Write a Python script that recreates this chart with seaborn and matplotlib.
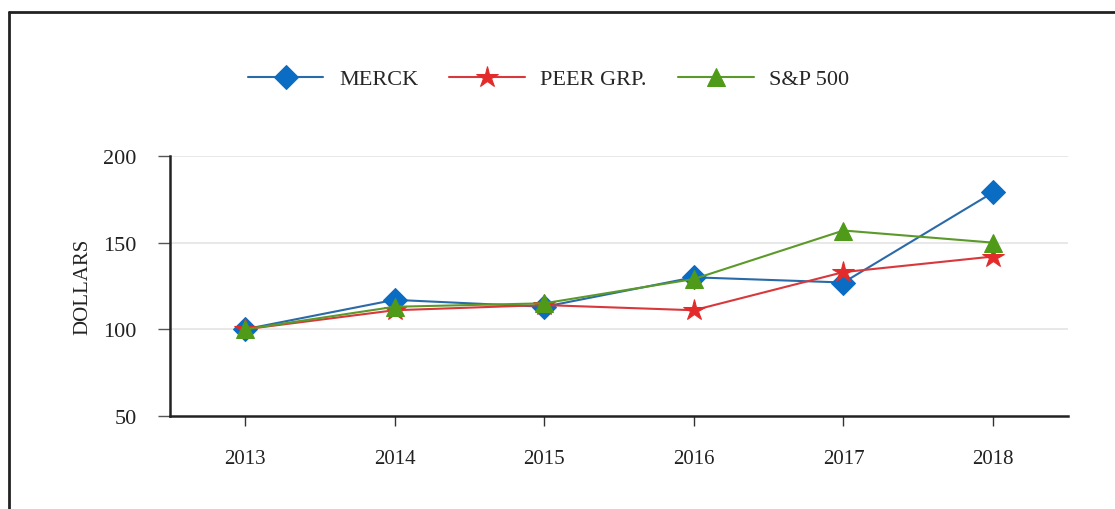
import pandas as pd
import matplotlib.pyplot as plt
import seaborn as sns
from matplotlib.lines import Line2D

years = [2013, 2014, 2015, 2016, 2017, 2018]
merck = [100, 117, 113, 130, 127, 179]
peer = [100, 111, 114, 111, 133, 142]
sp500 = [100, 113, 115, 129, 157, 150]
series_names = ["MERCK", "PEER GRP.", "S&P 500"]

df = pd.DataFrame({
	"year": years * 3,
	"value": merck + peer + sp500,
	"series": [series_names[0]] * 6 + [series_names[1]] * 6 + [series_names[2]] * 6,
})

colors = {"MERCK": "#0b6cc4", "PEER GRP.": "#e32b2b", "S&P 500": "#4f9a18"}
line_colors = {"MERCK": "#2a6aa8", "PEER GRP.": "#d8383c", "S&P 500": "#5b9a2a"}
markers = {"MERCK": "D", "PEER GRP.": "*", "S&P 500": "^"}
sizes = {"MERCK": 12.5, "PEER GRP.": 16, "S&P 500": 13}

sns.set_style("white")
plt.rcParams["font.family"] = ["Liberation Serif", "DejaVu Serif"]

fig = plt.figure(figsize=(11.15, 5.1), dpi=100)
ax = fig.add_axes([0.1525, 0.1824, 0.8053, 0.5098])

for name in series_names:
	sub = df[df.series == name]
	sns.lineplot(data=sub, x="year", y="value", ax=ax, color=line_colors[name],
		marker=markers[name], markersize=sizes[name], markerfacecolor=colors[name],
		markeredgecolor=colors[name], linewidth=1.5, label=name)

ax.set_xlim(2012.5, 2018.5)
ax.set_ylim(50, 200)
ax.set_xticks(years)
ax.set_xticklabels([str(y) for y in years])
ax.set_yticks([50, 100, 150, 200])
for v in [100, 150, 200]:
	ax.axhline(v, color="#e4e4e4", linewidth=1.2, zorder=0)

for side in ["top", "right"]:
	ax.spines[side].set_visible(False)
for side in ["left", "bottom"]:
	ax.spines[side].set_color("#222222")
	ax.spines[side].set_linewidth(1.8)

ax.tick_params(axis="x", direction="out", length=7, width=1, color="#333333",
	pad=17, labelsize=15, labelcolor="#222222", bottom=True)
ax.tick_params(axis="y", direction="out", length=9, width=1, color="#555555",
	pad=15, labelsize=16, labelcolor="#222222", left=True)
ax.set_xlabel("")
ax.set_ylabel("DOLLARS", fontsize=15, color="#222222", labelpad=8)

handles, labels = ax.get_legend_handles_labels()
ax.legend(handles, labels, loc="center", bbox_to_anchor=(0.492, 0.843),
	bbox_transform=fig.transFigure, ncol=3, frameon=False, fontsize=16,
	handlelength=3.4, columnspacing=1.4, handletextpad=0.7)

# frame lines of the original picture
fig.add_artist(Line2D([0.008, 0.008], [0.0, 0.975], color="#222222", linewidth=2))
fig.add_artist(Line2D([0.008, 1.0], [0.975, 0.975], color="#222222", linewidth=2))

fig.savefig("out.png", dpi=100)
